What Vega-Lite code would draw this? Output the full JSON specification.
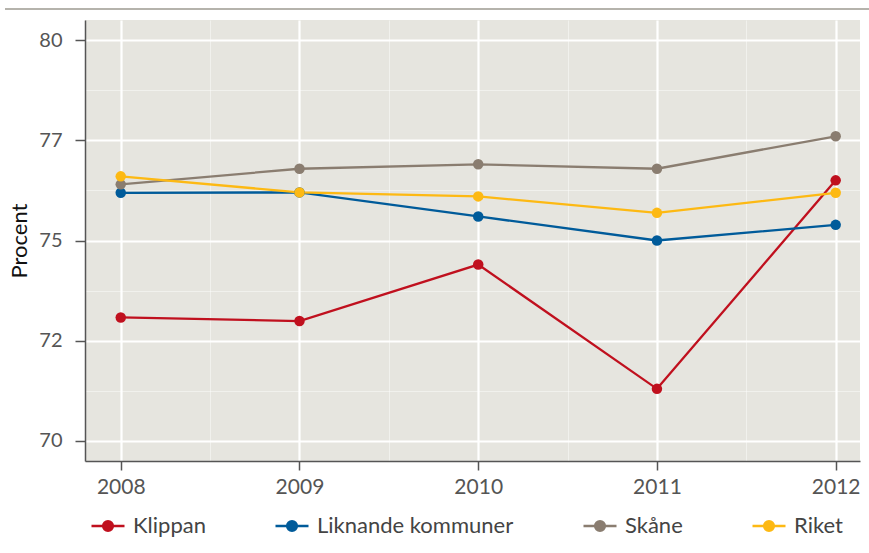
{
  "$schema": "https://vega.github.io/schema/vega-lite/v6.json",
  "autosize": {"type": "none"},
  "padding": {"left": 85, "top": 20, "right": 9, "bottom": 92},
  "width": 775,
  "height": 441,
  "background": "white",
  "config": {
    "font": "Lato",
    "view": {"fill": "#e6e5df", "stroke": null},
    "axis": {"labelFont": "Lato", "titleFont": "Lato"}
  },
  "data": {
    "values": [
      {"year": 2008, "serie": "Klippan", "value": 73.08},
      {"year": 2009, "serie": "Klippan", "value": 72.99},
      {"year": 2010, "serie": "Klippan", "value": 74.4},
      {"year": 2011, "serie": "Klippan", "value": 71.3},
      {"year": 2012, "serie": "Klippan", "value": 76.5},
      {"year": 2008, "serie": "Liknande kommuner", "value": 76.19},
      {"year": 2009, "serie": "Liknande kommuner", "value": 76.2},
      {"year": 2010, "serie": "Liknande kommuner", "value": 75.6},
      {"year": 2011, "serie": "Liknande kommuner", "value": 75.0},
      {"year": 2012, "serie": "Liknande kommuner", "value": 75.39},
      {"year": 2008, "serie": "Skåne", "value": 76.4},
      {"year": 2009, "serie": "Skåne", "value": 76.79},
      {"year": 2010, "serie": "Skåne", "value": 76.9},
      {"year": 2011, "serie": "Skåne", "value": 76.79},
      {"year": 2012, "serie": "Skåne", "value": 77.6},
      {"year": 2008, "serie": "Riket", "value": 76.6},
      {"year": 2009, "serie": "Riket", "value": 76.2},
      {"year": 2010, "serie": "Riket", "value": 76.1},
      {"year": 2011, "serie": "Riket", "value": 75.69},
      {"year": 2012, "serie": "Riket", "value": 76.19}
    ]
  },
  "resolve": {"axis": {"x": "independent", "y": "independent"}},
  "layer": [
    {
      "mark": {"type": "line", "strokeWidth": 2.3, "clip": false},
      "encoding": {
        "x": {
          "field": "year", "type": "quantitative",
          "scale": {"domain": [2007.8, 2012.136], "nice": false, "zero": false},
          "axis": {
            "values": [2008, 2009, 2010, 2011, 2012], "format": "d", "title": null,
            "grid": true, "gridColor": "#ffffff", "gridWidth": 2.2, "gridOpacity": 1,
            "domainColor": "#555555", "domainWidth": 1.5,
            "tickColor": "#555555", "tickSize": 9, "tickWidth": 1.5,
            "labelFontSize": 21, "labelColor": "#555555", "labelPadding": 6
          }
        },
        "y": {
          "field": "value", "type": "quantitative",
          "scale": {"domain": [69.5, 80.5], "nice": false, "zero": false},
          "axis": {
            "values": [70, 72.5, 75, 77.5, 80], "labelExpr": "floor(datum.value)",
            "title": "Procent", "titleFontSize": 22, "titleColor": "#111111", "titleFontWeight": "normal", "titlePadding": 7,
            "grid": true, "gridColor": "#ffffff", "gridWidth": 2.2, "gridOpacity": 1,
            "domainColor": "#555555", "domainWidth": 1.5,
            "tickColor": "#555555", "tickSize": 10, "tickWidth": 1.5,
            "labelFontSize": 20, "labelColor": "#555555", "labelPadding": 13
          }
        },
        "color": {
          "field": "serie", "type": "nominal",
          "scale": {
            "domain": ["Klippan", "Liknande kommuner", "Skåne", "Riket"],
            "range": ["#c0101e", "#005b9a", "#8a7d70", "#fdb913"]
          },
          "legend": {
            "title": null, "orient": "none", "legendX": 5, "legendY": 488,
            "direction": "horizontal", "columns": 4, "columnPadding": 64,
            "symbolType": "M-1,0H1M0.3,0A0.3,0.3,0,1,1,-0.3,0A0.3,0.3,0,1,1,0.3,0Z",
            "symbolSize": 1089, "symbolStrokeWidth": 2,
            "labelFontSize": 22, "labelColor": "#444444", "labelOffset": 7, "labelFont": "Lato", "labelLimit": 400,
            "encode": {
              "symbols": {
                "update": {
                  "fill": {"scale": "color", "field": "value"},
                  "stroke": {"scale": "color", "field": "value"},
                  "strokeWidth": {"value": 2.3},
                  "opacity": {"value": 1}
                }
              }
            }
          }
        }
      }
    },
    {
      "mark": {"type": "point", "filled": true, "size": 110, "opacity": 1, "clip": false},
      "encoding": {
        "x": {
          "field": "year", "type": "quantitative",
          "axis": {
            "values": [2008.5, 2009.5, 2010.5, 2011.5], "orient": "top",
            "labels": false, "ticks": false, "domain": false, "title": null,
            "grid": true, "gridColor": "#ffffff", "gridWidth": 1, "gridOpacity": 0.45
          }
        },
        "y": {
          "field": "value", "type": "quantitative",
          "axis": {
            "values": [71.25, 73.75, 76.25, 78.75], "orient": "right",
            "labels": false, "ticks": false, "domain": false, "title": null,
            "grid": true, "gridColor": "#ffffff", "gridWidth": 1, "gridOpacity": 0.45
          }
        },
        "color": {"field": "serie", "type": "nominal"}
      }
    },
    {
      "mark": {"type": "rule", "color": "#b5b3ac", "strokeWidth": 2, "clip": false},
      "encoding": {
        "x": {"datum": 2007.353, "type": "quantitative", "axis": null},
        "x2": {"datum": 2012.19},
        "y": {"datum": 80.775, "type": "quantitative", "axis": null}
      }
    }
  ]
}
